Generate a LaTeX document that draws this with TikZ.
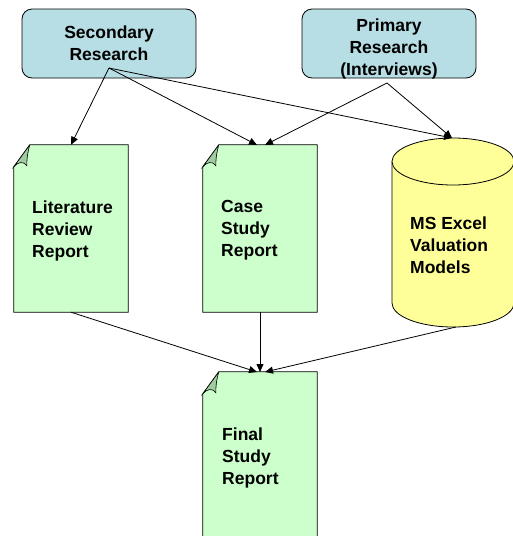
\documentclass[tikz,border=0pt]{standalone}
\usepackage{fontspec}
\setmainfont{Liberation Sans}
\usetikzlibrary{arrows.meta,calc}
\definecolor{boxteal}{RGB}{183,222,228}
\definecolor{docgreen}{RGB}{204,255,204}
\definecolor{folddark}{RGB}{160,204,160}
\definecolor{cylyellow}{RGB}{255,255,153}
\tikzset{
  lbl/.style={font=\fontsize{17.5}{22}\selectfont\bfseries, inner sep=0pt},
  srcbox/.style={draw=black, line width=0.8pt, fill=boxteal, rounded corners=10pt,
    minimum width=174pt, minimum height=69pt, inner sep=0pt},
  docframe/.style={minimum width=114pt, minimum height=167pt, inner sep=0pt},
  conn/.style={draw=black, line width=0.8pt, -{Triangle[length=8pt,width=7pt]}},
  docoutline/.style={draw=black, line width=0.8pt, fill=docgreen},
  foldpart/.style={draw=black, line width=0.6pt, fill=folddark}
}
\newcommand{\drawdoc}[1]{%
  \path[docoutline] ($(#1.north west)+(16,0)$) -- (#1.north east) -- (#1.south east)
     -- (#1.south west) -- ($(#1.north west)+(0,22)$) -- cycle;
  \path[foldpart] ($(#1.north west)+(16,0)$) -- ($(#1.north west)+(0,22)$)
     .. controls ($(#1.north west)+(4,17)$) and ($(#1.north west)+(10,16)$) .. ($(#1.north west)+(13,21)$)
     .. controls ($(#1.north west)+(13,13)$) and ($(#1.north west)+(14,7)$) .. ($(#1.north west)+(16,0)$);
}
\begin{document}
\begin{tikzpicture}[x=1pt,y=-1pt]
\useasboundingbox (0,0) rectangle (513,536);
\clip (0,0) rectangle (513,536);

% source boxes
\node[srcbox, lbl, align=center] (sec) at (109,43.5) {Secondary\\Research};
\node[srcbox] (prim) at (389,43.5) {};
\node[lbl, align=center] (primtext) at (389,49) {Primary\\Research\\(Interviews)};

% documents
\node[docframe] (lit) at (71,228.5) {};
\node[docframe] (case) at (260,228.5) {};
\node[docframe, minimum height=172pt] (final) at (260,458) {};
\drawdoc{lit}
\drawdoc{case}
\drawdoc{final}
\node[lbl, anchor=west, align=left] (littext) at (32,230.5) {Literature\\Review\\Report};
\node[lbl, anchor=west, align=left] (casetext) at (221,230.5) {Case\\Study\\Report};
\node[lbl, anchor=west, align=left] (finaltext) at (222,457.5) {Final\\Study\\Report};

% cylinder
\node[minimum width=122pt, minimum height=189pt, inner sep=0pt] (cyl) at (453,232.5) {};
\path[fill=cylyellow] (392,161.5) -- (392,303)
   .. controls (392,316.25) and (419.3,327) .. (453,327)
   .. controls (486.7,327) and (514,316.25) .. (514,303) -- (514,161.5) -- cycle;
\draw[line width=0.8pt] (392,161.5) -- (392,303)
   .. controls (392,316.25) and (419.3,327) .. (453,327)
   .. controls (486.7,327) and (514,316.25) .. (514,303) -- (514,161.5);
\draw[line width=0.8pt, fill=cylyellow] (453,161.5) ellipse [x radius=61pt, y radius=23.5pt];
\node[lbl, anchor=west, align=left] (cyltext) at (410,245.5) {MS Excel\\Valuation\\Models};

% connector anchor points
\coordinate (S) at (109,68);
\coordinate (P) at (387,83);
\coordinate (caseinL) at (257,145);
\coordinate (caseinR) at (265,145);
\coordinate (cyltop) at (452,138);
\coordinate (cylbot) at (456,327);
\coordinate (finL) at (257,372);
\coordinate (finM) at (260,372);
\coordinate (finR) at (265,372);

% connectors
\draw[conn] (S) -- (lit.north);
\draw[conn] (S) -- (caseinL);
\draw[conn] (S) -- (cyltop);
\draw[conn] (P) -- (caseinR);
\draw[conn] (P) -- (cyltop);
\draw[conn] (lit.south) -- (finL);
\draw[conn] (case.south) -- (finM);
\draw[conn] (cylbot) -- (finR);
\end{tikzpicture}
\end{document}
